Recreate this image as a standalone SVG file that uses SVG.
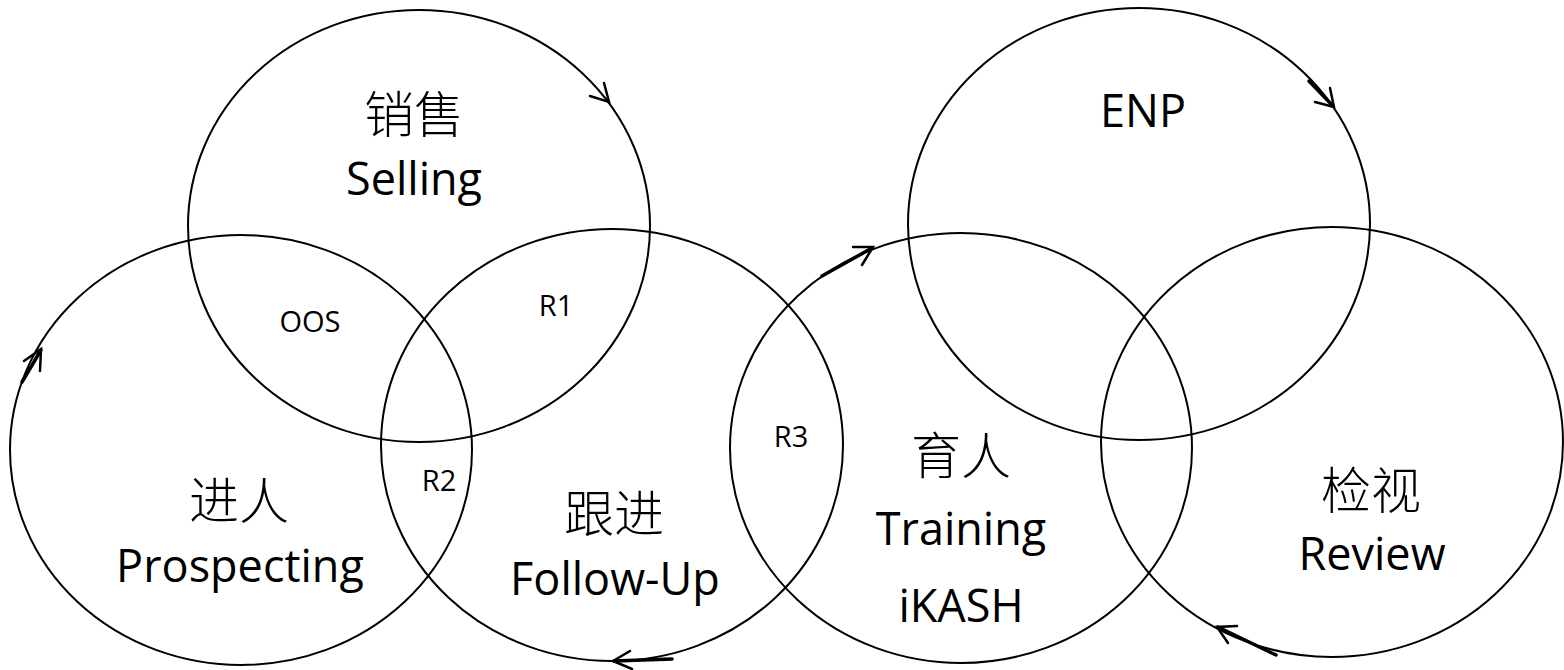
<svg xmlns="http://www.w3.org/2000/svg" width="1564" height="670" viewBox="0 0 1564 670">
<style>
.c{fill:none;stroke:#000;stroke-width:2}
.t{font-family:"Open Sans","Liberation Sans",sans-serif;font-size:45px;fill:#000;text-anchor:middle}
.s{font-family:"Open Sans","Liberation Sans",sans-serif;font-size:29px;fill:#000;text-anchor:middle}
.z{font-family:"Noto Sans CJK SC",sans-serif;font-size:50px;font-weight:300;fill:#000;text-anchor:middle}
.a{fill:none;stroke:#000;stroke-width:2.5;stroke-linecap:round;stroke-linejoin:miter}
.b{fill:none;stroke:#000;stroke-width:3.5;stroke-linecap:round}
</style>
<rect width="1564" height="670" fill="#fff"/>
<g id="selling">
<ellipse class="c" cx="419" cy="226" rx="231" ry="216"/>
<text class="z" x="414" y="133">销售</text>
<text class="t" x="414" y="195">Selling</text>
</g>
<g id="prospecting">
<ellipse class="c" cx="241" cy="450" rx="231" ry="215"/>
<text class="z" x="239" y="519">进人</text>
<text class="t" x="240" y="582">Prospecting</text>
</g>
<g id="followup">
<ellipse class="c" cx="612" cy="445" rx="231" ry="216"/>
<text class="z" x="614" y="532">跟进</text>
<text class="t" x="615" y="595">Follow-Up</text>
</g>
<g id="training">
<ellipse class="c" cx="961" cy="448" rx="231" ry="215"/>
<text class="z" x="961" y="474">育人</text>
<text class="t" x="961" y="545">Training</text>
<text class="t" x="961" y="622">iKASH</text>
</g>
<g id="enp">
<ellipse class="c" cx="1139" cy="224" rx="231" ry="216"/>
<text class="t" x="1143" y="127">ENP</text>
</g>
<g id="review">
<ellipse class="c" cx="1332" cy="442" rx="231" ry="215"/>
<text class="z" x="1371" y="509">检视</text>
<text class="t" x="1372" y="570">Review</text>
</g>
<g id="overlap-labels">
<text class="s" x="310" y="332">OOS</text>
<text class="s" x="556" y="316">R1</text>
<text class="s" x="439" y="491">R2</text>
<text class="s" x="791" y="447">R3</text>
</g>
<g id="connectors">
<path class="a" d="M604,83 L609,102 L590,96"/>
<path class="b" d="M22,382 L41,350"/>
<path class="a" d="M40,371 L41,349 L24,361"/>
<path class="b" d="M614,661 L672,659"/>
<path class="a" d="M630,651 L613,661 L632,669"/>
<path class="b" d="M822,276 L872,248"/>
<path class="a" d="M853,247 L873,247 L862,265"/>
<path class="b" d="M1309,81 L1333,106"/>
<path class="a" d="M1330,88 L1334,107 L1315,102"/>
<path class="b" d="M1218,627 L1276,655"/>
<path class="a" d="M1237,626 L1217,627 L1228,643"/>
</g>
</svg>
